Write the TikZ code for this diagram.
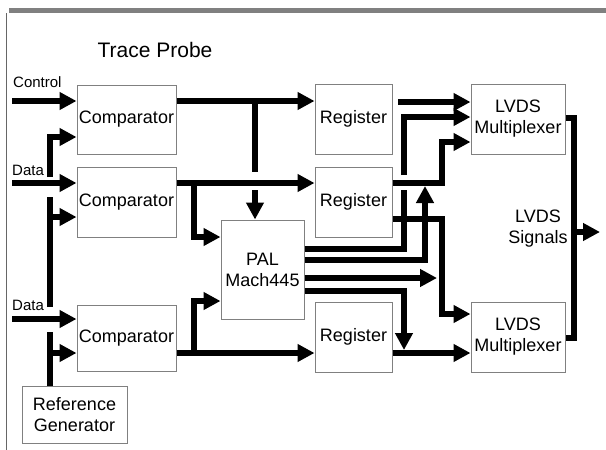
\documentclass[tikz,border=0pt]{standalone}
\usepackage{fontspec}
\setmainfont{Liberation Sans}
\usetikzlibrary{arrows.meta}
\tikzset{
  blk/.style={draw=black!50, line width=1pt, inner sep=0pt, align=center,
    font=\fontsize{18}{21}\selectfont},
  bus/.style={line width=6pt, line join=miter},
  busarr/.style={bus, -{Triangle[length=17pt,width=17pt]}},
  lbl/.style={font=\fontsize{15}{17}\selectfont, anchor=west, inner sep=0pt}
}
\begin{document}
\begin{tikzpicture}[x=1pt,y=-1pt]
\useasboundingbox (0,0) rectangle (606,450);
% frame
\fill[black!50] (9,8) rectangle (606,13);
\draw[black!60, line width=1pt] (6.5,13) -- (6.5,450);
\node[font=\fontsize{21}{24}\selectfont, inner sep=0pt] (title) at (155,50) {Trace Probe};
% blocks
\node[blk, minimum width=99pt, minimum height=69pt] (comp1) at (126.5,119.5) {Comparator};
\node[blk, minimum width=99pt, minimum height=70pt] (comp2) at (126.5,202) {Comparator};
\node[blk, minimum width=99pt, minimum height=66pt] (comp3) at (126.5,338.5) {Comparator};
\node[blk, minimum width=105pt, minimum height=57pt] (ref) at (74.5,414.5) {Reference\\Generator};
\node[blk, minimum width=77pt, minimum height=70pt] (reg1) at (353.5,119) {Register};
\node[blk, minimum width=77pt, minimum height=70pt] (reg2) at (353.5,202) {Register};
\node[blk, minimum width=77pt, minimum height=70pt] (reg3) at (353.5,337) {Register};
\node[blk, minimum width=83pt, minimum height=99pt] (pal) at (262.5,269.5) {PAL\\Mach445};
\node[blk, minimum width=94pt, minimum height=70pt] (mux1) at (518,119) {LVDS\\Multiplexer};
\node[blk, minimum width=94pt, minimum height=70pt] (mux2) at (518,337) {LVDS\\Multiplexer};
\node[blk, draw=none] (sig) at (538,229) {LVDS\\Signals};
% labels
\node[lbl] (lctl) at (13,82) {Control};
\node[lbl] (ld2) at (12,170) {Data};
\node[lbl] (ld3) at (12,305) {Data};
% free ends
\coordinate (ictl) at (12,101);
\coordinate (id2) at (12,183);
\coordinate (id3) at (12,319);
\coordinate (sigout) at (600,232);
% inputs
\draw[busarr] (ictl) -- (comp1.west |- ictl);
\draw[busarr] (id2) -- (comp2.west |- id2);
\draw[busarr] (id3) -- (comp3.west |- id3);
% reference distribution
\draw[bus] (ref.north -| 50,0) -- (50,332);
\draw[busarr] (50,353) -- (comp3.west |- 0,353);
\draw[bus] (50,307) -- (50,197);
\draw[busarr] (50,217) -- (comp2.west |- 0,217);
\draw[busarr] (50,177) -- (50,137) -- (comp1.west |- 0,137);
% comparator outputs
\draw[busarr] (comp1.east |- 0,101) -- (reg1.west |- 0,101);
\draw[bus] (255,101) -- (255,172);
\draw[busarr] (255,190) -- (pal.north -| 255,0);
\draw[busarr] (comp2.east |- 0,183) -- (reg2.west |- 0,183);
\draw[busarr] (194,183) -- (194,237) -- (pal.west |- 0,237);
\draw[busarr] (comp3.east |- 0,353) -- (reg3.west |- 0,353);
\draw[busarr] (194,353) -- (194,301) -- (pal.west |- 0,301);
% register outputs
\draw[busarr] (398,102) -- (mux1.west |- 0,102);
\draw[busarr] (reg2.east |- 0,183) -- (442,183) -- (442,142) -- (mux1.west |- 0,142);
\draw[busarr] (reg2.east |- 0,219) -- (442,219) -- (442,314) -- (mux2.west |- 0,314);
\draw[busarr] (reg3.east |- 0,353) -- (mux2.west |- 0,353);
% PAL outputs
\draw[bus] (pal.east |- 0,249) -- (404,249) -- (404,190);
\draw[busarr] (404,175) -- (404,117) -- (mux1.west |- 0,117);
\draw[busarr] (pal.east |- 0,260) -- (425,260) -- (425,186);
\draw[busarr] (pal.east |- 0,278) -- (437,278);
\draw[busarr] (pal.east |- 0,291) -- (404,291) -- (404,350);
% multiplexer outputs
\draw[bus] (mux1.east |- 0,118) -- (574,118) -- (574,338) -- (mux2.east |- 0,338);
\draw[busarr] (574,232) -- (sigout);
\end{tikzpicture}
\end{document}
